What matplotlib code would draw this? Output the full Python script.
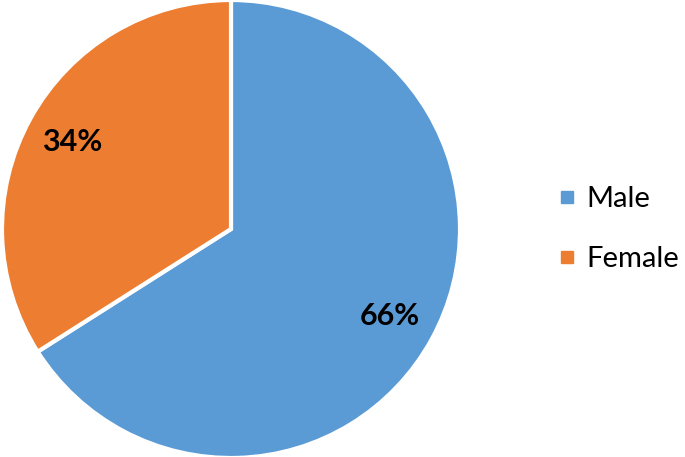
import matplotlib
matplotlib.use("Agg")
import matplotlib.pyplot as plt
from matplotlib.lines import Line2D

categories = ["Male", "Female"]
values = [66, 34]
colors = ["#5B9BD5", "#ED7D31"]

plt.rcParams['font.family'] = ['Lato', 'DejaVu Sans']

W, H = 685, 457
fig = plt.figure(figsize=(W / 100, H / 100), dpi=100)
cx, cy, r = 231, 229, 229
ax = fig.add_axes([(cx - r) / W, (H - cy - r) / H, 2 * r / W, 2 * r / H])
wedges, texts, autotexts = ax.pie(
    values, colors=colors, startangle=90, counterclock=False,
    autopct=lambda p: f"{p:.0f}%", pctdistance=0.79, radius=1.0,
    wedgeprops=dict(edgecolor="white", linewidth=3),
    textprops=dict(fontsize=22, fontweight="bold", color="black"))
ax.set_xlim(-1, 1)
ax.set_ylim(-1, 1)
ax.set_aspect("equal")
ax.axis("off")

handles = [Line2D([0], [0], marker="s", linestyle="none", markersize=8,
                  markerfacecolor=c, markeredgecolor=c) for c in colors]
fig.legend(handles, categories, loc="center left", bbox_to_anchor=(554 / W, (H - 229) / H),
           frameon=False, fontsize=21, handletextpad=0.2, labelspacing=1.15,
           handlelength=0.9, borderaxespad=0, borderpad=0)

fig.savefig("out.png", dpi=100)
